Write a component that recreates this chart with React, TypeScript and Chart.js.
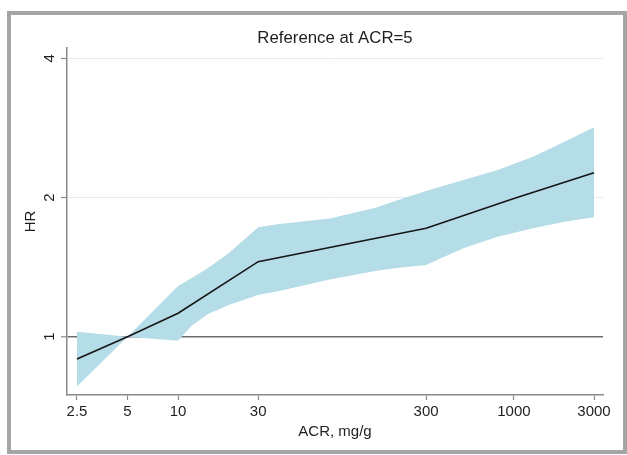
import React, { useEffect, useRef } from 'react';
import { Chart, registerables } from 'chart.js';

Chart.register(...registerables);

const chartTitle = 'Reference at ACR=5';
const xTitle = 'ACR, mg/g';
const yTitle = 'HR';

const acrLine = [2.5, 5, 10, 30, 300, 1000, 3000];
const hrLine = [0.895, 1.0, 1.124, 1.453, 1.716, 1.99, 2.263];

const acrBand = [2.5, 5, 10, 12, 15, 20, 30, 40, 80, 150, 200, 300, 500, 800, 1300, 2000, 3000];
const hrUpper = [1.025, 1.0, 1.287, 1.338, 1.406, 1.515, 1.724, 1.753, 1.801, 1.9, 1.97, 2.066, 2.182, 2.294, 2.451, 2.641, 2.837];
const hrLower = [0.78, 1.0, 0.98, 1.055, 1.118, 1.171, 1.231, 1.256, 1.33, 1.387, 1.408, 1.429, 1.553, 1.645, 1.716, 1.773, 1.813];

const xTicks = [2.5, 5, 10, 30, 300, 1000, 3000];
const yTicks = [1, 2, 4];

const FONT = '"Liberation Sans", Arial, Helvetica, sans-serif';
const TEXT = '#1e1e1e';
const AXIS = '#8a8a8a';

const yTickLabels = {
  id: 'yTickLabels',
  afterDraw(chart: any) {
    const s = chart.scales.y;
    const ctx = chart.ctx;
    const x = s.right - s.options.grid.tickLength - 11;
    ctx.save();
    ctx.font = `15px ${FONT}`;
    ctx.fillStyle = TEXT;
    ctx.textAlign = 'center';
    ctx.textBaseline = 'middle';
    s.ticks.forEach((t: any) => {
      const y = s.getPixelForValue(t.value);
      ctx.save();
      ctx.translate(x, y);
      ctx.rotate(-Math.PI / 2);
      ctx.fillText(String(t.value), 0, 0);
      ctx.restore();
    });
    ctx.restore();
  },
};

const centeredTitle = {
  id: 'centeredTitle',
  afterDraw(chart: any) {
    const { ctx, chartArea } = chart;
    ctx.save();
    ctx.font = `16.8px ${FONT}`;
    ctx.fillStyle = TEXT;
    ctx.textAlign = 'center';
    ctx.textBaseline = 'middle';
    ctx.fillText(chartTitle, (chartArea.left + chartArea.right) / 2, chartArea.top - 10);
    ctx.restore();
  },
};

export default function App() {
  const ref = useRef<HTMLCanvasElement | null>(null);

  useEffect(() => {
    if (!ref.current) return;
    const chart = new Chart(ref.current, {
      type: 'line',
      data: {
        datasets: [
          {
            label: 'HR',
            data: acrLine.map((x, i) => ({ x, y: hrLine[i] })),
            borderColor: '#151515',
            borderWidth: 1.6,
            pointRadius: 0,
            fill: false,
            tension: 0,
          },
          {
            label: 'Upper',
            data: acrBand.map((x, i) => ({ x, y: hrUpper[i] })),
            borderWidth: 0,
            borderColor: 'rgba(0,0,0,0)',
            backgroundColor: '#b5dde7',
            pointRadius: 0,
            fill: '+1',
            tension: 0,
          },
          {
            label: 'Lower',
            data: acrBand.map((x, i) => ({ x, y: hrLower[i] })),
            borderWidth: 0,
            borderColor: 'rgba(0,0,0,0)',
            backgroundColor: '#b5dde7',
            pointRadius: 0,
            fill: false,
            tension: 0,
          },
        ],
      },
      options: {
        animation: false,
        responsive: false,
        devicePixelRatio: 1,
        layout: { padding: { left: 0, right: 24, top: 48, bottom: 0 } },
        plugins: {
          legend: { display: false },
          tooltip: { enabled: false },
          title: { display: false },
        },
        scales: {
          x: {
            type: 'logarithmic',
            bounds: 'data',
            min: 2.18,
            max: 3394,
            afterBuildTicks: (s: any) => {
              s.ticks = xTicks.map((v) => ({ value: v }));
            },
            afterFit: (s: any) => {
              s.height = 60;
              s.paddingLeft = 0;
              s.paddingRight = 0;
            },
            ticks: {
              autoSkip: false,
              maxRotation: 0,
              minRotation: 0,
              color: TEXT,
              padding: 3,
              font: { family: FONT, size: 15 },
              callback: (v: any) => String(v),
            },
            grid: {
              drawOnChartArea: false,
              drawTicks: true,
              tickLength: 5,
              tickColor: AXIS,
              tickWidth: 1.2,
            },
            border: { display: true, color: AXIS, width: 1.5 },
            title: {
              display: true,
              text: xTitle,
              color: TEXT,
              font: { family: FONT, size: 15 },
              padding: { top: 0, bottom: 14 },
            },
          },
          y: {
            type: 'logarithmic',
            bounds: 'data',
            min: 0.748,
            max: 4.21,
            afterBuildTicks: (s: any) => {
              s.ticks = yTicks.map((v) => ({ value: v }));
            },
            afterFit: (s: any) => {
              s.width = 67;
              s.paddingTop = 0;
              s.paddingBottom = 0;
            },
            ticks: { display: false },
            grid: {
              drawOnChartArea: true,
              drawTicks: true,
              tickLength: 6,
              tickColor: AXIS,
              tickWidth: 1.2,
              color: (ctx: any) => (ctx.tick && ctx.tick.value === 1 ? '#6c6c6c' : '#e1edf0'),
              lineWidth: (ctx: any) => (ctx.tick && ctx.tick.value === 1 ? 1.5 : 1),
            },
            border: { display: true, color: AXIS, width: 1.5 },
            title: {
              display: true,
              text: yTitle,
              color: TEXT,
              font: { family: FONT, size: 15 },
              padding: { top: 22, bottom: 0 },
            },
          },
        },
      },
      plugins: [yTickLabels, centeredTitle],
    } as any);
    return () => chart.destroy();
  }, []);

  return (
    <div style={{ position: 'fixed', left: 0, top: 0, width: 627, height: 455, background: '#fff' }}>
      <div
        style={{
          position: 'absolute',
          left: 7,
          top: 11,
          width: 620,
          height: 443,
          boxSizing: 'border-box',
          border: '4px solid #a5a5a5',
        }}
      />
      <canvas ref={ref} width={627} height={455} style={{ position: 'absolute', left: 0, top: 0 }} />
    </div>
  );
}
